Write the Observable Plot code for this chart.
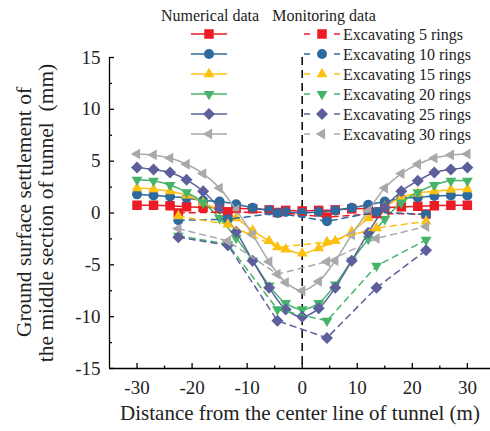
<!DOCTYPE html>
<html><head><meta charset="utf-8">
<script src="https://cdn.jsdelivr.net/npm/d3@7"></script>
<script src="https://cdn.jsdelivr.net/npm/@observablehq/plot@0.6"></script>
<style>
html,body{margin:0;padding:0;background:#fff;}
#chart{width:490px;height:431px;}
svg{font-family:"Liberation Serif","Times New Roman",serif;}
</style></head><body><div id="chart"></div>
<script>
// ---- data ----
const seriesNames = ["Excavating 5 rings","Excavating 10 rings","Excavating 15 rings","Excavating 20 rings","Excavating 25 rings","Excavating 30 rings"];
const seriesColors = ["#ed1c24","#2f6a9f","#fcbf12","#45b46a","#5d5f9c","#a9a9ab"];
const distNum = [-30,-27,-24,-21,-18,-15,-12,-9,-6,-3,0,3,6,9,12,15,18,21,24,27,30];
const distMon = [-22.5,-13.5,-4.5,4.5,13.5,22.5];
const num5  = [0.75,0.75,0.7,0.6,0.55,0.5,0.45,0.4,0.3,0.25,0.2,0.25,0.3,0.4,0.45,0.5,0.6,0.65,0.7,0.75,0.75];
const num10 = [1.8,1.7,1.6,1.45,1.2,1.1,0.85,0.5,0.25,0.1,0.0,0.1,0.25,0.5,0.8,1.1,1.4,1.5,1.65,1.7,1.7];
const num15 = [2.4,2.3,2.1,1.7,1.0,0.2,-0.5,-1.7,-2.7,-3.5,-3.9,-3.4,-2.7,-1.8,-0.5,0.6,1.5,1.9,2.1,2.25,2.3];
const num20 = [3.2,3.1,2.7,2.0,1.0,-0.5,-2.4,-4.6,-7.0,-8.7,-9.3,-8.7,-6.9,-4.6,-2.5,-0.6,1.0,2.0,2.7,3.1,3.1];
const num25 = [4.4,4.2,3.9,3.2,2.1,0.4,-1.8,-4.6,-7.2,-9.3,-10.0,-9.2,-7.2,-4.6,-1.9,0.5,2.1,3.1,3.9,4.2,4.4];
const num30 = [5.7,5.6,5.3,4.7,3.8,2.4,0.3,-2.1,-4.7,-6.7,-7.5,-6.6,-4.6,-2.1,0.2,2.4,3.8,4.7,5.3,5.6,5.7];
const mon5  = [0.0,0.1,0.05,-0.4,-0.05,-0.1];
const mon10 = [-0.7,-0.6,0.0,-0.8,0.1,-0.15];
const mon15 = [-0.3,-1.1,-3.3,-2.8,-1.45,-0.8];
const mon20 = [-2.2,-3.0,-9.3,-10.4,-5.1,-2.6];
const mon25 = [-2.35,-3.1,-10.4,-12.05,-7.2,-3.6];
const mon30 = [-1.5,-2.7,-5.9,-4.7,-2.45,-1.3];
const yMajor = [-15,-10,-5,0,5,10,15];
const yMinor = [-12.5,-7.5,-2.5,2.5,7.5,12.5];
const xMajor = [-30,-20,-10,0,10,20,30];
const xMinor = [-25,-15,-5,5,15,25];
const legendHeaders = ["Numerical data","Monitoring data"];
const xTitle = "Distance from the center line of tunnel (m)";
const yTitle1 = "Ground surface settlement of";
const yTitle2 = "the middle section of tunnel\u00a0 (mm)";

// ---- symbols ----
function mkSym(fn){ return {draw(c,size){ const r=Math.sqrt(size/Math.PI); fn(c,r);} }; }
const symSquare = mkSym((c,r)=>{const s=r*0.95; c.moveTo(-s,-s); c.lineTo(s,-s); c.lineTo(s,s); c.lineTo(-s,s); c.closePath();});
const symCircle = mkSym((c,r)=>{c.moveTo(r,0); c.arc(0,0,r,0,2*Math.PI); c.closePath();});
const symTriUp = mkSym((c,r)=>{const a=r*1.25; c.moveTo(0,-a); c.lineTo(a*0.866,a*0.5); c.lineTo(-a*0.866,a*0.5); c.closePath();});
const symTriDown = mkSym((c,r)=>{const a=r*1.25; c.moveTo(0,a); c.lineTo(a*0.866,-a*0.5); c.lineTo(-a*0.866,-a*0.5); c.closePath();});
const symDiamond = mkSym((c,r)=>{const d=r*1.2; c.moveTo(0,-d); c.lineTo(d,0); c.lineTo(0,d); c.lineTo(-d,0); c.closePath();});
const symTriLeft = mkSym((c,r)=>{const a=r*1.25; c.moveTo(-a,0); c.lineTo(a*0.5,-a*0.866); c.lineTo(a*0.5,a*0.866); c.closePath();});
const syms = [symSquare,symCircle,symTriUp,symTriDown,symDiamond,symTriLeft];

const numVals = [num5,num10,num15,num20,num25,num30];
const monVals = [mon5,mon10,mon15,mon20,mon25,mon30];
const R = 5;

const marks = [];
marks.push(Plot.ruleX([0], {stroke:"#111", strokeWidth:1.6, strokeDasharray:"8,5"}));
numVals.forEach((vals,i)=>{
  const rows = distNum.map((x,j)=>({x, y: vals[j]}));
  marks.push(Plot.line(rows, {x:"x", y:"y", stroke: seriesColors[i], strokeWidth:1.5, curve:"catmull-rom"}));
  marks.push(Plot.dot(rows, {x:"x", y:"y", symbol: syms[i], r:R, fill: seriesColors[i], stroke:"none"}));
});
monVals.forEach((vals,i)=>{
  const rows = distMon.map((x,j)=>({x, y: vals[j]}));
  marks.push(Plot.line(rows, {x:"x", y:"y", stroke: seriesColors[i], strokeWidth:1.5, strokeDasharray:"6,5"}));
  marks.push(Plot.dot(rows, {x:"x", y:"y", symbol: syms[i], r:R, fill: seriesColors[i], stroke:"none"}));
});
// axes
marks.push(Plot.ruleX([-35], {stroke:"#000", strokeWidth:1.3}));
marks.push(Plot.ruleY([-15], {stroke:"#000", strokeWidth:1.3}));
marks.push(Plot.axisY(yMajor, {tickSize:-5, tickPadding:14, fontSize:19, tickFormat:d=>String(d), stroke:"#000", strokeWidth:1.3, label:null, fill:"#222"}));
marks.push(Plot.axisY(yMinor, {tickSize:-3, tickFormat:()=>"", stroke:"#000", strokeWidth:1.3, label:null}));
marks.push(Plot.axisX(xMajor, {tickSize:-5, tickPadding:17, fontSize:19, tickFormat:d=>String(d), stroke:"#000", strokeWidth:1.3, label:null, fill:"#222"}));
marks.push(Plot.axisX(xMinor, {tickSize:-2.5, tickFormat:()=>"", stroke:"#000", strokeWidth:1.3, label:null}));
marks.push(Plot.text([xTitle], {frameAnchor:"bottom", dy:51, fontSize:21, fill:"#222"}));

const chart = Plot.plot({
  width:490, height:431,
  marginLeft:109, marginRight:0, marginTop:57, marginBottom:63,
  x:{domain:[-35,34.2]},
  y:{domain:[-15,15]},
  style:{fontFamily:"Liberation Serif, Times New Roman, serif", background:"#fff"},
  marks
});
document.getElementById("chart").appendChild(chart);

const svg = d3.select(chart);
// ---- y title ----
const yt = svg.append("g").attr("font-family","Liberation Serif, Times New Roman, serif").attr("font-size",21.5).attr("fill","#222").attr("text-anchor","middle");
yt.append("text").attr("transform","translate(31,212) rotate(-90)").text(yTitle1);
yt.append("text").attr("transform","translate(53,213) rotate(-90)").text(yTitle2);

// ---- legend ----
const lg = svg.append("g").attr("font-family","Liberation Serif, Times New Roman, serif").attr("font-size",16).attr("fill","#222");
lg.append("text").attr("x",210).attr("y",21).attr("text-anchor","middle").text(legendHeaders[0]);
lg.append("text").attr("x",324).attr("y",21).attr("text-anchor","middle").text(legendHeaders[1]);
seriesNames.forEach((name,i)=>{
  const y = 34 + i*20;
  const col = seriesColors[i];
  const path = d3.symbol().type(syms[i]).size(Math.PI*R*R)();
  lg.append("line").attr("x1",191).attr("x2",227).attr("y1",y).attr("y2",y).attr("stroke",col).attr("stroke-width",1.5);
  lg.append("path").attr("d",path).attr("transform",`translate(209,${y})`).attr("fill",col);
  lg.append("line").attr("x1",304).attr("x2",310).attr("y1",y).attr("y2",y).attr("stroke",col).attr("stroke-width",1.5);
  lg.append("line").attr("x1",334).attr("x2",340).attr("y1",y).attr("y2",y).attr("stroke",col).attr("stroke-width",1.5);
  lg.append("path").attr("d",path).attr("transform",`translate(322,${y})`).attr("fill",col);
  lg.append("text").attr("x",343).attr("y",y+5.5).attr("text-anchor","start").text(name);
});
</script></body></html>
